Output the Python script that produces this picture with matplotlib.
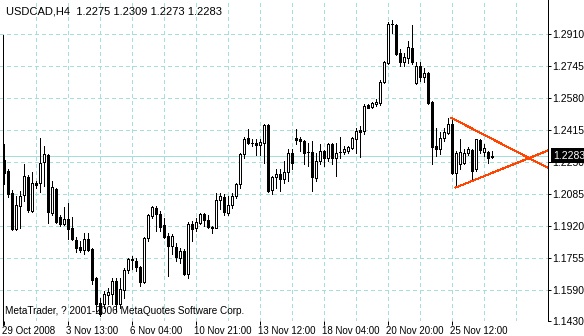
import numpy as np
import matplotlib
matplotlib.use('Agg')
import matplotlib.pyplot as plt
from matplotlib import font_manager
from matplotlib.patches import Rectangle
from matplotlib.transforms import blended_transform_factory, ScaledTranslation

# USDCAD H4 bars, oldest first
opens = [1.2261, 1.2204, 1.2091, 1.1905, 1.2023, 1.2080, 1.2173, 1.1997, 1.2142, 1.2142,
         1.2250, 1.2286, 1.1987, 1.2111, 1.1966, 1.1930, 1.1956, 1.1910, 1.1848, 1.1812,
         1.1796, 1.1853, 1.1802, 1.1652, 1.1523, 1.1518, 1.1564, 1.1570, 1.1636, 1.1518,
         1.1590, 1.1693, 1.1745, 1.1740, 1.1709, 1.1631, 1.1858, 1.1971, 1.2013, 1.1982,
         1.1925, 1.1868, 1.1817, 1.1812, 1.1755, 1.1791, 1.1673, 1.1930, 1.1910, 1.1936,
         1.1982, 1.1951, 1.1910, 1.1910, 1.2054, 1.2070, 1.1987, 1.2028, 1.2075, 1.2137,
         1.2292, 1.2374, 1.2348, 1.2348, 1.2338, 1.2348, 1.2441, 1.2106, 1.2173, 1.2188,
         1.2162, 1.2199, 1.2297, 1.2374, 1.2369, 1.2358, 1.2302, 1.2302, 1.2168, 1.2255,
         1.2307, 1.2271, 1.2343, 1.2271, 1.2302, 1.2302, 1.2307, 1.2322, 1.2369, 1.2415,
         1.2410, 1.2544, 1.2534, 1.2549, 1.2554, 1.2663, 1.2760, 1.2964, 1.2956, 1.2812,
         1.2766, 1.2786, 1.2838, 1.2657, 1.2745, 1.2688, 1.2709, 1.2559, 1.2333, 1.2317,
         1.2374, 1.2399, 1.2446, 1.2194, 1.2240, 1.2245, 1.2297, 1.2312, 1.2214, 1.2364,
         1.2302, 1.2302, 1.2275]
highs = [1.2343, 1.2214, 1.2106, 1.2075, 1.2101, 1.2240, 1.2183, 1.2199, 1.2152, 1.2374,
         1.2333, 1.2290, 1.2152, 1.2115, 1.1977, 1.2018, 1.2039, 1.1966, 1.1863, 1.1843,
         1.1884, 1.1884, 1.1805, 1.1655, 1.1549, 1.1585, 1.1600, 1.1652, 1.1652, 1.1652,
         1.1703, 1.1755, 1.1765, 1.1755, 1.1712, 1.1863, 1.1982, 1.2023, 1.2023, 1.1997,
         1.1961, 1.1884, 1.1879, 1.1833, 1.1807, 1.1802, 1.1941, 1.1946, 1.1961, 1.1987,
         1.1987, 1.1977, 1.1920, 1.2091, 1.2091, 1.2086, 1.2075, 1.2091, 1.2142, 1.2297,
         1.2379, 1.2420, 1.2369, 1.2369, 1.2369, 1.2446, 1.2446, 1.2178, 1.2214, 1.2214,
         1.2255, 1.2317, 1.2317, 1.2420, 1.2379, 1.2363, 1.2348, 1.2358, 1.2297, 1.2343,
         1.2310, 1.2348, 1.2346, 1.2348, 1.2379, 1.2333, 1.2333, 1.2379, 1.2425, 1.2436,
         1.2549, 1.2549, 1.2559, 1.2575, 1.2673, 1.2771, 1.2972, 1.2982, 1.2959, 1.2833,
         1.2812, 1.2874, 1.2956, 1.2766, 1.2766, 1.2735, 1.2714, 1.2565, 1.2425, 1.2405,
         1.2425, 1.2477, 1.2477, 1.2307, 1.2369, 1.2317, 1.2328, 1.2317, 1.2369, 1.2369,
         1.2343, 1.2307, 1.2309]
lows = [1.2137, 1.2070, 1.1900, 1.1900, 1.1910, 1.2049, 1.1992, 1.1992, 1.2116, 1.2096,
        1.2126, 1.1936, 1.1977, 1.1936, 1.1920, 1.1925, 1.1853, 1.1848, 1.1786, 1.1786,
        1.1776, 1.1791, 1.1621, 1.1482, 1.1456, 1.1497, 1.1518, 1.1518, 1.1482, 1.1497,
        1.1549, 1.1678, 1.1698, 1.1688, 1.1611, 1.1626, 1.1843, 1.1961, 1.1894, 1.1894,
        1.1858, 1.1662, 1.1776, 1.1740, 1.1729, 1.1668, 1.1652, 1.1843, 1.1894, 1.1930,
        1.1920, 1.1910, 1.1884, 1.1908, 1.2008, 1.1977, 1.1977, 1.2013, 1.2065, 1.2116,
        1.2271, 1.2343, 1.2333, 1.2286, 1.2286, 1.2245, 1.2096, 1.2086, 1.2116, 1.2101,
        1.2142, 1.2152, 1.2214, 1.2343, 1.2307, 1.2240, 1.2230, 1.2101, 1.2152, 1.2240,
        1.2230, 1.2255, 1.2240, 1.2178, 1.2271, 1.2292, 1.2297, 1.2317, 1.2297, 1.2276,
        1.2394, 1.2528, 1.2528, 1.2539, 1.2544, 1.2657, 1.2755, 1.2915, 1.2802, 1.2745,
        1.2745, 1.2760, 1.2755, 1.2652, 1.2668, 1.2663, 1.2549, 1.2240, 1.2281, 1.2292,
        1.2358, 1.2394, 1.2188, 1.2121, 1.2214, 1.2240, 1.2286, 1.2152, 1.2204, 1.2297,
        1.2281, 1.2245, 1.2273]
closes = [1.2194, 1.2086, 1.1905, 1.2028, 1.2075, 1.2178, 1.2002, 1.2142, 1.2131, 1.2245,
          1.2292, 1.1992, 1.2121, 1.1938, 1.1930, 1.1956, 1.1905, 1.1853, 1.1807, 1.1796,
          1.1853, 1.1796, 1.1641, 1.1518, 1.1466, 1.1570, 1.1580, 1.1636, 1.1518, 1.1595,
          1.1693, 1.1750, 1.1750, 1.1709, 1.1631, 1.1858, 1.1977, 1.2018, 1.1982, 1.1915,
          1.1863, 1.1817, 1.1868, 1.1760, 1.1791, 1.1673, 1.1930, 1.1905, 1.1941, 1.1982,
          1.1951, 1.1915, 1.1915, 1.2054, 1.2075, 1.1992, 1.2028, 1.2075, 1.2137, 1.2292,
          1.2369, 1.2348, 1.2346, 1.2338, 1.2353, 1.2441, 1.2101, 1.2173, 1.2188, 1.2162,
          1.2199, 1.2297, 1.2245, 1.2363, 1.2358, 1.2297, 1.2300, 1.2173, 1.2255, 1.2307,
          1.2271, 1.2343, 1.2271, 1.2297, 1.2300, 1.2317, 1.2328, 1.2374, 1.2410, 1.2405,
          1.2539, 1.2528, 1.2554, 1.2559, 1.2663, 1.2766, 1.2962, 1.2961, 1.2807, 1.2766,
          1.2791, 1.2843, 1.2766, 1.2745, 1.2688, 1.2709, 1.2554, 1.2328, 1.2317, 1.2374,
          1.2405, 1.2446, 1.2194, 1.2297, 1.2302, 1.2297, 1.2317, 1.2204, 1.2369, 1.2312,
          1.2322, 1.2271, 1.2283]

price_ticks = [1.2910, 1.2745, 1.2580, 1.2415, 1.2250, 1.2085, 1.1920, 1.1755, 1.1590, 1.1430]
date_bars = [0, 16, 32, 48, 64, 80, 96, 112]
date_labels = ['29 Oct 2008', '3 Nov 13:00', '6 Nov 04:00', '10 Nov 21:00',
               '13 Nov 12:00', '18 Nov 04:00', '20 Nov 20:00', '25 Nov 12:00']
bid = 1.2283

# two converging trend lines (bar index, price)
upper_line = ([112, 124], [1.2477, 1.2349])
lower_line = ([113, 124], [1.2118, 1.2209])

title = 'USDCAD,H4  1.2275 1.2309 1.2273 1.2283'
copyright_text = 'MetaTrader, ? 2001-2006 MetaQuotes Software Corp.'


def pick_font():
    for name in ['Liberation Sans Narrow', 'Liberation Sans']:
        try:
            font_manager.findfont(name, fallback_to_default=False)
            return name
        except ValueError:
            pass
    return 'DejaVu Sans'


W, H = 584, 336
FONT = pick_font()
PX = 0.72  # one pixel in points
GRID = '#a6dede'
plt.rcParams['font.family'] = FONT

fig = plt.figure(figsize=(W / 100, H / 100), dpi=100)
ax = fig.add_axes([0, (H - 321) / H, 548 / W, 321 / H])
ax.set_xlim(-0.875, 136.125)
ax.set_ylim(1.1430, 1.30852)

for s in ['top', 'left', 'bottom']:
    ax.spines[s].set_visible(False)
ax.spines['right'].set_linewidth(PX)

# grid
for b in range(8, 137, 8):
    ax.axvline(b, color=GRID, lw=PX, ls=(0, (4, 3)), antialiased=False, zorder=1)
for p in price_ticks:
    ax.axhline(p, color=GRID, lw=PX, ls=(0, (4, 3)), antialiased=False, zorder=1)
ax.axhline(bid, color=GRID, lw=PX, antialiased=False, zorder=1)
ax.axvline(-0.25, ymin=-0.012, ymax=0.89, color='black', lw=PX,
           antialiased=False, clip_on=False, zorder=2)

# candles
for i, (o, h, l, c) in enumerate(zip(opens, highs, lows, closes)):
    ax.vlines(i, l, h, color='black', lw=PX, antialiased=False, zorder=3)
    face = 'white' if c > o else 'black'
    ax.add_patch(Rectangle((i - 0.25, min(o, c)), 0.5, abs(c - o), facecolor=face,
                           edgecolor='black', lw=PX, antialiased=False, zorder=4))

# trend lines, extended to the right edge
x_end = ax.get_xlim()[1]
for xs, ys in [upper_line, lower_line]:
    slope = (ys[1] - ys[0]) / (xs[1] - xs[0])
    ax.plot([xs[0], x_end], [ys[0], ys[0] + slope * (x_end - xs[0])],
            color='#ff4500', lw=PX, antialiased=False, zorder=5)

# axes
ax.yaxis.tick_right()
ax.set_yticks(price_ticks)
ax.set_yticklabels(['%.4f' % p for p in price_ticks])
ax.tick_params(axis='y', length=2.2, width=PX, pad=1, labelsize=7.5)
ax.set_xticks(date_bars)
ax.set_xticklabels(date_labels)
ax.tick_params(axis='x', length=3, width=PX, pad=0.8, labelsize=7)
shift = ScaledTranslation(-2 / 100, 0, fig.dpi_scale_trans)
for lab in ax.get_xticklabels():
    lab.set_horizontalalignment('left')
    lab.set_transform(lab.get_transform() + shift)

# bid price label
tr = blended_transform_factory(fig.transFigure, ax.transData)
ax.text(553 / W, bid, '%.4f' % bid, transform=tr, color='white', fontsize=7.5,
        va='center', ha='left', clip_on=False, zorder=10,
        bbox=dict(boxstyle='square,pad=0.2', fc='black', ec='none'))

fig.text(6 / W, 1 - 15 / H, title, fontsize=8, va='baseline', ha='left')
fig.text(5 / W, 1 - 314 / H, copyright_text, fontsize=7.2, va='baseline', ha='left', zorder=6)

fig.savefig('out.png', dpi=100, facecolor='white')
